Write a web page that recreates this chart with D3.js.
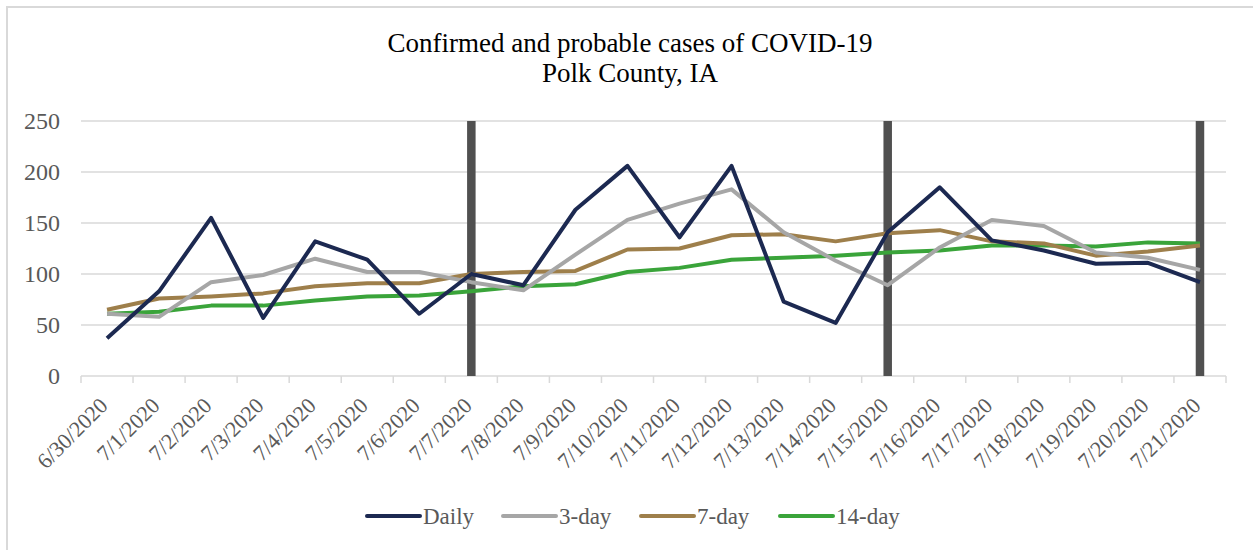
<!DOCTYPE html>
<html>
<head>
<meta charset="utf-8">
<script src="https://cdn.jsdelivr.net/npm/d3@7"></script>
<style>
  body { margin: 0; background: #fff; }
  text { font-family: "Liberation Serif", "Times New Roman", serif; }
</style>
</head>
<body>
<svg id="chart" width="1253" height="550"></svg>
<script>
// Data
const dates = ["6/30/2020", "7/1/2020", "7/2/2020", "7/3/2020", "7/4/2020", "7/5/2020", "7/6/2020",
  "7/7/2020", "7/8/2020", "7/9/2020", "7/10/2020", "7/11/2020", "7/12/2020", "7/13/2020",
  "7/14/2020", "7/15/2020", "7/16/2020", "7/17/2020", "7/18/2020", "7/19/2020", "7/20/2020", "7/21/2020"];
const daily = [37, 83, 155, 57, 132, 114, 61, 100, 89, 163, 206, 136, 206, 73, 52, 141, 185, 133, 123, 110, 111, 92];
const threeDay = [61, 58, 92, 99, 115, 102, 102, 92, 84, 119, 153, 169, 183, 141, 113, 89, 126, 153, 147, 121, 116, 104];
const sevenDay = [65, 76, 78, 81, 88, 91, 91, 100, 102, 103, 124, 125, 138, 139, 132, 140, 143, 132, 130, 118, 122, 128];
const fourteenDay = [61, 63, 69, 69, 74, 78, 79, 83, 88, 90, 102, 106, 114, 116, 118, 121, 123, 128, 128, 127, 131, 130];
const markerDates = ["7/7/2020", "7/15/2020", "7/21/2020"];
const yTicks = [0, 50, 100, 150, 200, 250];

const series = [
  { name: "Daily", values: daily, color: "#1c2951" },
  { name: "3-day", values: threeDay, color: "#a6a6a6" },
  { name: "7-day", values: sevenDay, color: "#9e7f4b" },
  { name: "14-day", values: fourteenDay, color: "#3aa43a" }
];

const svg = d3.select("#chart");
const margin = { left: 81, right: 27, top: 121, bottom: 174 };
const width = 1253 - margin.left - margin.right;
const height = 550 - margin.top - margin.bottom;

// outer chart frame
svg.append("rect")
  .attr("x", 7).attr("y", 7)
  .attr("width", 1260).attr("height", 560)
  .attr("fill", "none").attr("stroke", "#d9d9d9").attr("stroke-width", 2);

// title
const title = svg.append("text")
  .attr("text-anchor", "middle")
  .attr("font-size", "27px")
  .attr("fill", "#000");
title.append("tspan").attr("x", 630).attr("y", 52).text("Confirmed and probable cases of COVID-19");
title.append("tspan").attr("x", 630).attr("y", 82).text("Polk County, IA");

const g = svg.append("g").attr("transform", `translate(${margin.left},${margin.top})`);

const x = d3.scaleBand().domain(dates).range([0, width]);
const y = d3.scaleLinear().domain([0, 250]).range([height, 0]);

// gridlines
g.selectAll("line.grid")
  .data(yTicks.filter(d => d > 0))
  .enter().append("line")
  .attr("class", "grid")
  .attr("x1", 0).attr("x2", width)
  .attr("y1", d => y(d)).attr("y2", d => y(d))
  .attr("stroke", "#d9d9d9").attr("stroke-width", 1.5);

// y labels
g.selectAll("text.ylab")
  .data(yTicks)
  .enter().append("text")
  .attr("class", "ylab")
  .attr("x", -21)
  .attr("y", d => y(d))
  .attr("dy", "0.35em")
  .attr("text-anchor", "end")
  .attr("font-size", "24px")
  .attr("fill", "#595959")
  .text(d => d);

// x axis line with ticks at band boundaries
g.append("line")
  .attr("x1", 0).attr("x2", width)
  .attr("y1", height).attr("y2", height)
  .attr("stroke", "#d9d9d9").attr("stroke-width", 1.5);
const bounds = dates.map(d => x(d)).concat([width]);
g.selectAll("line.xtick")
  .data(bounds)
  .enter().append("line")
  .attr("class", "xtick")
  .attr("x1", d => d).attr("x2", d => d)
  .attr("y1", height).attr("y2", height + 7)
  .attr("stroke", "#d9d9d9").attr("stroke-width", 1.5);

// x labels
g.selectAll("text.xlab")
  .data(dates)
  .enter().append("text")
  .attr("class", "xlab")
  .attr("text-anchor", "end")
  .attr("font-size", "22px")
  .attr("fill", "#595959")
  .attr("transform", d => `translate(${x(d) + x.bandwidth() / 2 + 2},${height + 31}) rotate(-45)`)
  .text(d => d);

// vertical markers
g.selectAll("rect.marker")
  .data(markerDates)
  .enter().append("rect")
  .attr("class", "marker")
  .attr("x", d => x(d) + x.bandwidth() / 2 - 4.25)
  .attr("y", y(250))
  .attr("width", 8.5)
  .attr("height", y(0) - y(250))
  .attr("fill", "#505050");

// lines
const line = d3.line()
  .x((d, i) => x(dates[i]) + x.bandwidth() / 2)
  .y(d => y(d));

g.selectAll("path.series")
  .data(series.slice().reverse())
  .enter().append("path")
  .attr("class", "series")
  .attr("d", d => line(d.values))
  .attr("fill", "none")
  .attr("stroke", d => d.color)
  .attr("stroke-width", 4)
  .attr("stroke-linejoin", "round");

// legend
const legendX = [367, 503, 641, 780];
const legend = svg.selectAll("g.legend")
  .data(series)
  .enter().append("g")
  .attr("class", "legend")
  .attr("transform", (d, i) => `translate(${legendX[i]},516)`);
legend.append("line")
  .attr("x1", 0).attr("x2", 53)
  .attr("stroke", d => d.color)
  .attr("stroke-width", 4)
  .attr("stroke-linecap", "round");
legend.append("text")
  .attr("x", 56)
  .attr("dy", "0.35em")
  .attr("font-size", "23px")
  .attr("fill", "#595959")
  .text(d => d.name);
</script>
</body>
</html>
